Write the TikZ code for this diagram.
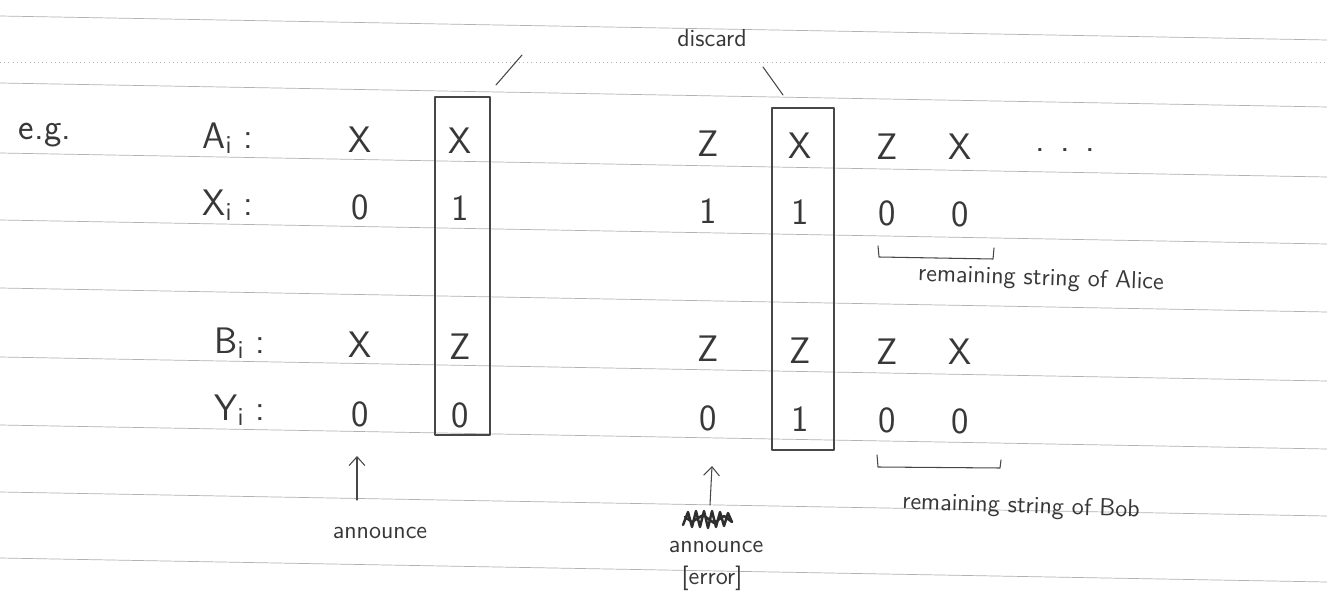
\documentclass[tikz,border=0pt]{standalone}
\usetikzlibrary{arrows.meta,calc}
\begin{document}
\begin{tikzpicture}[x=0.02cm,y=-0.02cm,
  pencil/.style={draw=black!72, line width=0.6pt, line cap=round, line join=round},
  ruling/.style={draw=black!30, line width=0.4pt},
  val/.style={text=black!78, font=\sffamily\fontsize{21}{23}\selectfont, inner sep=1pt},
  rowlabel/.style={val},
  note/.style={text=black!78, font=\sffamily\fontsize{14}{16}\selectfont, inner sep=1pt},
  arrowtip/.style={pencil, -{Straight Barb[length=5pt,width=9pt]}}]

\useasboundingbox (0,0) rectangle (1327,607);
\fill[white] (0,0) rectangle (1327,607);

% ruled notebook paper
\foreach \l in {16,83,153,220,288,357,425,492,558}
  \draw[ruling] (0,\l) -- (1327,\l+24);
\draw[ruling, dotted] (0,62) -- (1327,62);

% row labels
\node[val] (eg) at (45,135) {e.g.};
\node[rowlabel] (la) at (228,138) {A\textsubscript{i} :};
\node[rowlabel] (lx) at (228,205) {X\textsubscript{i} :};
\node[rowlabel] (lb) at (240,343) {B\textsubscript{i} :};
\node[rowlabel] (ly) at (240,410) {Y\textsubscript{i} :};

% bases and bits, column by column
\foreach \c/\x/\a/\b/\bb/\y in {1/360/X/0/X/0, 2/460/X/1/Z/0, 3/708/Z/1/Z/0,
                                4/800/X/1/Z/1, 5/887/Z/0/Z/0, 6/960/X/0/X/0} {
  \pgfmathsetmacro{\dy}{0.012*(\x-360)}
  \node[val] (a\c) at (\x,140+\dy) {\a};
  \node[val] (x\c) at (\x,207+\dy) {\b};
  \node[val] (b\c) at (\x,345+\dy) {\bb};
  \node[val] (y\c) at (\x,414+\dy) {\y};
}
\node[val] (dots) at (1065,150) {. . .};

% discarded columns
\draw[pencil] (435,97) rectangle (490,435);
\draw[pencil] (772,108) rectangle (834,450);
\node[note] (discard) at (712,38) {discard};
\coordinate (d1s) at (496,85);
\coordinate (d1e) at (522,55);
\coordinate (d2s) at (763,67);
\coordinate (d2e) at (783,95);
\draw[pencil] (d1s) -- (d1e);
\draw[pencil] (d2s) -- (d2e);

% remaining strings
\draw[pencil] (878,246) -- (879,257) -- (993,259) -- (994,248);
\node[note, rotate=-2] (alice) at (1041,279) {remaining string of Alice};
\draw[pencil] (877,455) -- (878,467) -- (1000,468) -- (1001,460);
\node[note, rotate=-2] (bob) at (1021,507) {remaining string of Bob};

% announced positions
\node[note] (ann1) at (380,533) {announce};
\coordinate (t1) at (357,500);
\coordinate (h1) at (357,456);
\draw[arrowtip] (t1) -- (h1);

\coordinate (t2) at (710,505);
\coordinate (h2) at (712,466);
\draw[arrowtip] (t2) -- (h2);
\draw[pencil, line width=1.4pt, draw=black!82]
  (683,525) -- (688,512) -- (692,527) -- (696,511) -- (700,527) -- (704,511)
  -- (708,528) -- (712,511) -- (716,527) -- (720,512) -- (724,526) -- (728,513)
  -- (732,522) -- (724,516) -- (714,523) -- (703,515) -- (692,522) -- (685,517);
\node[note] (ann2) at (716,547) {announce};
\node[note] (err) at (712,578) {[error]};

\end{tikzpicture}
\end{document}
